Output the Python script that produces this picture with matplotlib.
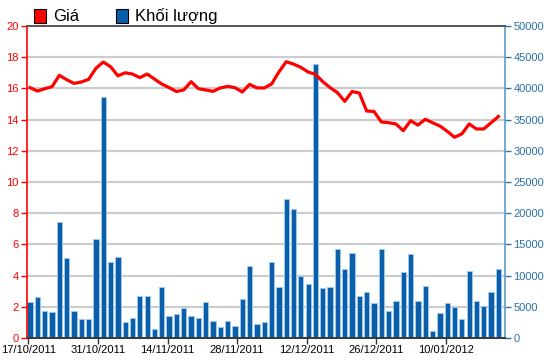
import numpy as np
import matplotlib.pyplot as plt
from matplotlib.patches import Patch

plt.rcParams['font.family'] = ['Liberation Sans', 'DejaVu Sans']

# Giá (nghìn đồng)
price = [16.05, 15.83, 15.98, 16.11, 16.84, 16.56, 16.32, 16.41, 16.58, 17.29,
         17.69, 17.39, 16.81, 17.0, 16.92, 16.69, 16.92, 16.6, 16.28, 16.05,
         15.8, 15.9, 16.43, 15.98, 15.9, 15.81, 16.03, 16.13, 16.05, 15.77,
         16.26, 16.03, 16.03, 16.28, 17.05, 17.71, 17.56, 17.35, 17.05, 16.9,
         16.43, 16.05, 15.73, 15.17, 15.8, 15.7, 14.55, 14.52, 13.85, 13.8,
         13.72, 13.29, 13.93, 13.65, 14.02, 13.8, 13.59, 13.25, 12.87, 13.08,
         13.72, 13.4, 13.4, 13.8, 14.2]

# Khối lượng
volume = [5770, 6620, 4380, 4170, 18640, 12770, 4380, 2990, 2990, 15810,
          38620, 12180, 12980, 2560, 3200, 6780, 6780, 1390, 8170, 3580,
          3790, 4810, 3580, 3200, 5720, 2780, 1760, 2780, 1980, 6200,
          11590, 2190, 2560, 12180, 8170, 22220, 20620, 9990, 8600, 43860,
          7960, 8170, 14210, 11000, 13620, 6780, 7370, 5560, 14210, 4380,
          5980, 10630, 13410, 5980, 8390, 1180, 3950, 5560, 4970, 2990,
          10790, 5980, 5180, 7370, 11000]

date_labels = ['17/10/2011', '31/10/2011', '14/11/2011', '28/11/2011',
               '12/12/2011', '26/12/2011', '10/01/2012']

RED = '#ff0000'
BLUE = '#0b5ea8'
AXBLUE = '#2a72a8'

fig = plt.figure(figsize=(5.5, 3.64), dpi=100)
ax = fig.add_axes([27 / 550, 1 - 338 / 364, 478 / 550, 312 / 364])
ax2 = ax.twinx()

x = np.arange(len(price))

# volume bars on the lower axes
ax2.bar(x, volume, width=0.72, color=BLUE, edgecolor='#9cc8ef', linewidth=0.7, zorder=3)
ax2.set_ylim(0, 50000)
ax2.set_yticks(np.arange(0, 50001, 5000))
ax2.yaxis.grid(True, color='#cccccc', linewidth=1.6, zorder=0)
ax2.set_axisbelow(True)
ax2.tick_params(axis='y', colors=AXBLUE, labelsize=8, length=4, width=1, pad=2)

# price line on top
ax.set_zorder(ax2.get_zorder() + 1)
ax.patch.set_visible(False)
ax2.patch.set_visible(True)
ax2.patch.set_facecolor('white')
ax.plot(x, price, color=RED, linewidth=2.3, solid_joinstyle='round')
ax.set_ylim(0, 20)
ax.set_yticks(np.arange(0, 21, 2))
ax.tick_params(axis='y', colors=RED, labelsize=8, length=4, width=1, pad=2)

ax.set_xlim(-0.42, 64.9)
tick_pos = np.arange(len(date_labels)) * 9.5 - 0.22
ax.set_xticks(tick_pos)
ax.set_xticklabels(date_labels)
ax.tick_params(axis='x', colors='#333333', labelcolor='black', labelsize=8, length=4, width=1, pad=1)

for a in (ax, ax2):
    a.spines['top'].set_color('#555555')
    a.spines['top'].set_linewidth(1.2)
    a.spines['bottom'].set_color('#333333')
    a.spines['bottom'].set_linewidth(1.2)
ax.spines['left'].set_color(RED)
ax.spines['left'].set_linewidth(1.2)
ax.spines['right'].set_visible(False)
ax2.spines['left'].set_visible(False)
ax2.spines['right'].set_color('#5a9cc8')
ax2.spines['right'].set_linewidth(1.2)

handles = [Patch(facecolor=RED, edgecolor='black', linewidth=0.8, label='Giá'),
           Patch(facecolor=BLUE, edgecolor='black', linewidth=0.8, label='Khối lượng')]
fig.legend(handles=handles, loc='upper left', bbox_to_anchor=(27 / 550, 0.995), ncol=2,
           frameon=False, fontsize=12, handlelength=0.75, handleheight=0.9,
           handletextpad=0.4, columnspacing=2.2, borderaxespad=0)

fig.savefig('out.png', dpi=100)
